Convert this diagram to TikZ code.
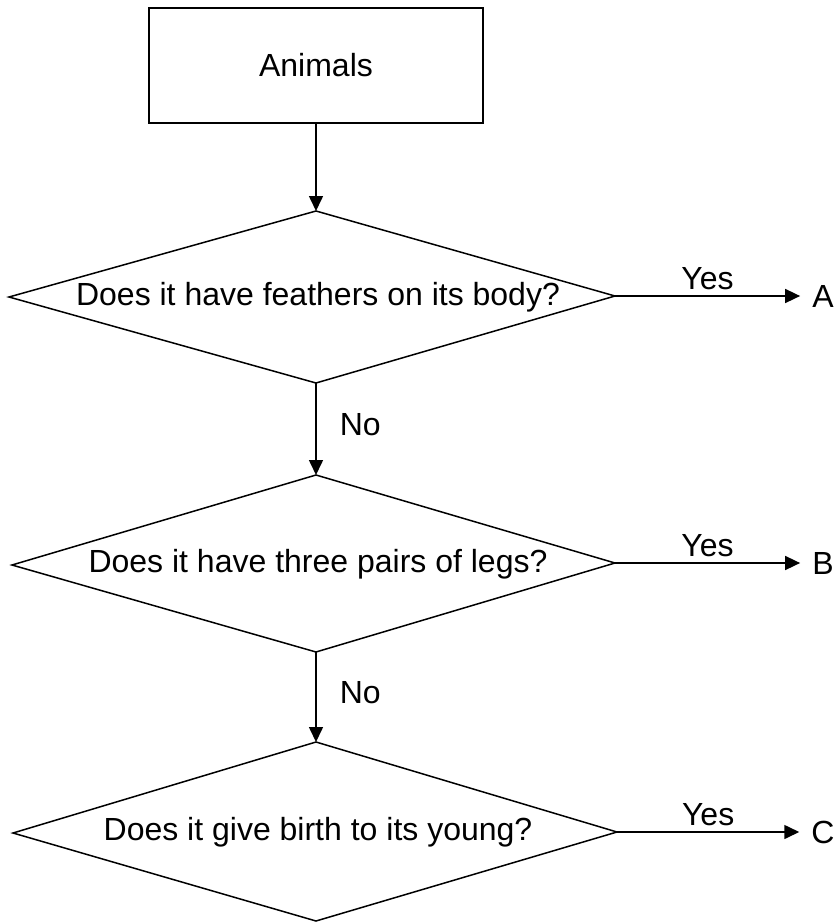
\documentclass[tikz,border=0pt]{standalone}
\usepackage{fontspec}
\setmainfont{Liberation Sans}
\usetikzlibrary{arrows.meta}
\begin{document}
\begin{tikzpicture}[x=1pt,y=-1pt,
  every node/.style={font=\fontsize{32}{38}\selectfont},
  flowline/.style={line width=1.6pt, -{Triangle[length=15pt,width=14pt]}},
  decision/.style={draw, line width=1.5pt, line join=miter},
  startbox/.style={draw, line width=1.8pt, minimum width=334pt, minimum height=115pt, inner sep=0pt},
  yeslabel/.style={midway, above, inner sep=5pt},
  nolabel/.style={right, inner sep=0pt},
  outcome/.style={inner sep=12pt}
]
\useasboundingbox (0,0) rectangle (838,923);

% start box
\node[startbox] (animals) at (316,65.5) {Animals};

% first question
\coordinate (t1) at (316,211);
\coordinate (r1) at (615,296);
\coordinate (b1) at (316,383);
\coordinate (l1) at (9,297);
\draw[decision] (t1) -- (r1) -- (b1) -- (l1) -- cycle;
\node (q1) at (318,297) {Does it have feathers on its body?};

% second question
\coordinate (t2) at (316,475);
\coordinate (r2) at (615,563);
\coordinate (b2) at (316,652);
\coordinate (l2) at (12,565);
\draw[decision] (t2) -- (r2) -- (b2) -- (l2) -- cycle;
\node (q2) at (318,564) {Does it have three pairs of legs?};

% third question
\coordinate (t3) at (316,742);
\coordinate (r3) at (617,832);
\coordinate (b3) at (316,921);
\coordinate (l3) at (13,833);
\draw[decision] (t3) -- (r3) -- (b3) -- (l3) -- cycle;
\node (q3) at (318,832) {Does it give birth to its young?};

% outcomes
\node[outcome] (A) at (823,296) {A};
\node[outcome] (B) at (823,563) {B};
\node[outcome] (C) at (823,832) {C};

% connectors
\draw[flowline] (animals.south) -- (t1);
\draw[flowline] (b1) -- node[nolabel, pos=0.45, xshift=23pt] {No} (t2);
\draw[flowline] (b2) -- node[nolabel, pos=0.45, xshift=23pt] {No} (t3);
\draw[flowline] (r1) -- (A.west) node[yeslabel] {Yes};
\draw[flowline] (r2) -- (B.west) node[yeslabel] {Yes};
\draw[flowline] (r3) -- (C.west) node[yeslabel] {Yes};
\end{tikzpicture}
\end{document}
